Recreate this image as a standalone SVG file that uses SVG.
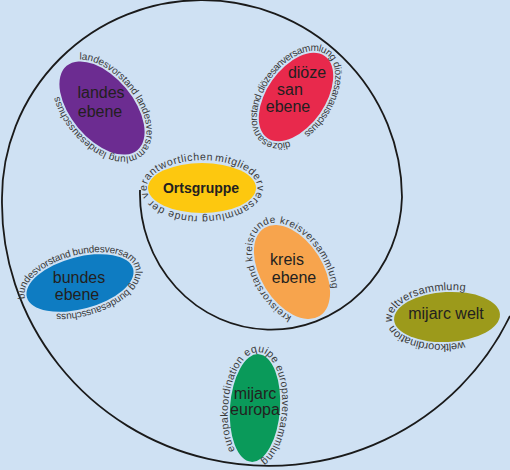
<svg xmlns="http://www.w3.org/2000/svg" xmlns:xlink="http://www.w3.org/1999/xlink" width="510" height="470" viewBox="0 0 510 470">
<style>
.lbl{font-family:"Liberation Sans",Arial,sans-serif;font-size:16px;fill:#231f20;text-anchor:middle}
.ring{font-family:"Liberation Sans",Arial,sans-serif;font-size:10px;fill:#3a3a3a}
.spiral{fill:none;stroke:#1a1a1a;stroke-width:1.8}
</style>
<defs>
<path id="p-landes" d="M-51.66,-13.95 A57,33 0 0 1 51.66,13.95 A57,33 0 0 1 -51.66,-13.95"/>
<path id="p-dioez" d="M-39.83,19.93 A52,31 0 0 1 39.83,-19.93 A52,31 0 0 1 -39.83,19.93"/>
<path id="p-orts" d="M12.82,-27.27 A57,28 0 0 1 -12.82,27.27 A57,28 0 0 1 12.82,-27.27"/>
<path id="p-kreis" d="M37.53,23.73 A54,33 0 0 1 -37.53,-23.73 A54,33 0 0 1 37.53,23.73"/>
<path id="p-bundes" d="M-56.97,0.98 A57,28 0 0 1 56.97,-0.98 A57,28 0 0 1 -56.97,0.98"/>
<path id="p-welt" d="M-54.79,2.35 A55,27 0 0 1 54.79,-2.35 A55,27 0 0 1 -54.79,2.35"/>
<path id="p-europa" d="M-16.99,43.53 A27,56 0 0 1 16.99,-43.53 A27,56 0 0 1 -16.99,43.53"/>
</defs>
<rect width="510" height="470" fill="#cfe1f3"/>
<g id="connectors">
<path class="spiral" d="M140,190 A131,136 0 1 0 402,197 A200,198 0 0 0 2,199 A267,263 0 0 0 510,316"/>
</g>
<g id="landes">
<g transform="translate(102,108) rotate(50)">
<ellipse rx="55" ry="31" fill="#6c2c91"/>
<text class="ring"><textPath href="#p-landes" xlink:href="#p-landes" textLength="238" lengthAdjust="spacing">landesvorstand landesversammlung landesausschuss</textPath></text>
</g>
<text class="lbl" x="101" y="98">landes</text>
<text class="lbl" x="100" y="117">ebene</text>
</g>
<g id="dioezesan">
<g transform="translate(296,97) rotate(-55)">
<ellipse rx="50" ry="29" fill="#e8294c"/>
<text class="ring"><textPath href="#p-dioez" xlink:href="#p-dioez" textLength="248" lengthAdjust="spacing">diözesanvorstand diözesanversammlung diözesanausschuss</textPath></text>
</g>
<text class="lbl" x="307" y="78">diöze</text>
<text class="lbl" x="290" y="95">san</text>
<text class="lbl" x="288" y="112">ebene</text>
</g>
<g id="ortsgruppe">
<g transform="translate(202,188)">
<ellipse rx="54" ry="25" fill="#fdc80f"/>
<text class="ring" style="font-size:10.5px"><textPath href="#p-orts" xlink:href="#p-orts" textLength="265" lengthAdjust="spacing">mitgliederversammlung runde der verantwortlichen</textPath></text>
</g>
<text class="lbl" x="201" y="193" style="font-size:14px;font-weight:bold">Ortsgruppe</text>
</g>
<g id="kreis">
<g transform="translate(292,272) rotate(58)">
<ellipse rx="52" ry="31" fill="#f7a44d"/>
<text class="ring"><textPath href="#p-kreis" xlink:href="#p-kreis" textLength="214" lengthAdjust="spacing">kreisvorstand kreisrunde kreisversammlung</textPath></text>
</g>
<text class="lbl" x="287" y="265">kreis</text>
<text class="lbl" x="294" y="283">ebene</text>
</g>
<g id="bundes">
<g transform="translate(80,283) rotate(-15)">
<ellipse rx="55" ry="26" fill="#0e7cc2"/>
<text class="ring"><textPath href="#p-bundes" xlink:href="#p-bundes" textLength="238" lengthAdjust="spacing">bundesvorstand bundesversammlung bundesausschuss</textPath></text>
</g>
<text class="lbl" x="79" y="283">bundes</text>
<text class="lbl" x="77" y="300">ebene</text>
</g>
<g id="welt">
<g transform="translate(447,317) rotate(-3)">
<ellipse rx="53" ry="25" fill="#9c9a1b"/>
<text class="ring" style="font-size:11px"><textPath href="#p-welt" xlink:href="#p-welt" textLength="88" lengthAdjust="spacing">weltversammlung</textPath></text>
<text class="ring" style="font-size:11px"><textPath href="#p-welt" xlink:href="#p-welt" startOffset="184" textLength="77" lengthAdjust="spacing">weltkoordination</textPath></text>
</g>
<text class="lbl" x="446" y="319">mijarc welt</text>
</g>
<g id="europa">
<g transform="translate(255,408) rotate(4)">
<ellipse rx="25" ry="54" fill="#0a9a5a"/>
<text class="ring" style="font-size:10.5px"><textPath href="#p-europa" xlink:href="#p-europa" textLength="236" lengthAdjust="spacing">europakoordination equipe europaversammlung</textPath></text>
</g>
<text class="lbl" x="255" y="399">mijarc</text>
<text class="lbl" x="255" y="415">europa</text>
</g>
</svg>
